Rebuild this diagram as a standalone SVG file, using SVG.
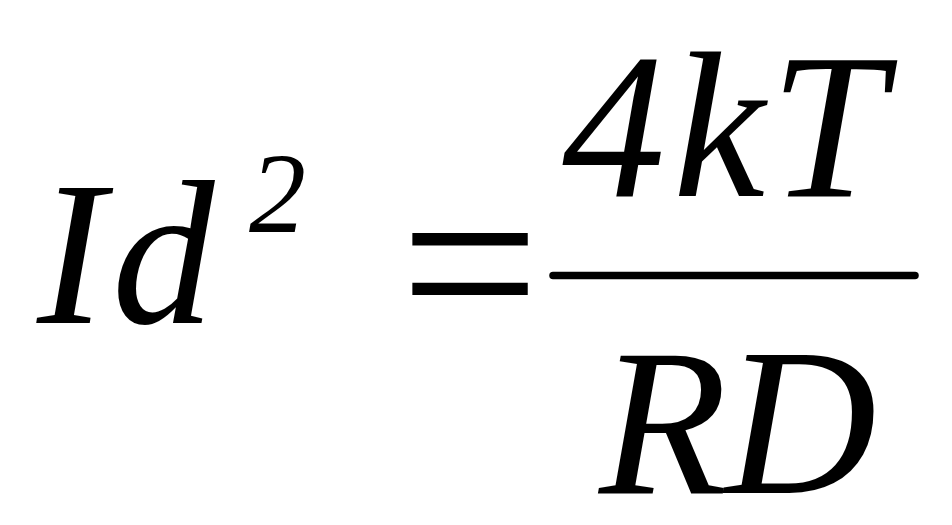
<svg xmlns="http://www.w3.org/2000/svg" width="952" height="525" viewBox="0 0 952 525">
<style>
.m{font-family:"Liberation Serif","Times New Roman",serif;font-style:italic;fill:#000}
.r{font-family:"Liberation Serif","Times New Roman",serif;fill:#000}
</style>
<rect width="952" height="525" fill="#fff"/>
<g id="lhs">
<text class="m" font-size="205" x="37" y="323">I</text>
<text class="m" font-size="205" x="112" y="323">d</text>
<text class="m" font-size="114" x="249" y="232">2</text>
</g>
<g id="equals">
<text class="r" font-size="248" x="400" y="346">=</text>
</g>
<g id="fraction">
<text class="m" font-size="207" x="562" y="196">4</text>
<text class="m" font-size="207" x="673" y="196">k</text>
<text class="m" font-size="207" x="770" y="196">T</text>
<line x1="553" y1="275.5" x2="915" y2="275.5" stroke="#000" stroke-width="7.5" stroke-linecap="round"/>
<text class="m" font-size="210" x="599" y="493">R</text>
<text class="m" font-size="210" x="725" y="493">D</text>
</g>
</svg>
